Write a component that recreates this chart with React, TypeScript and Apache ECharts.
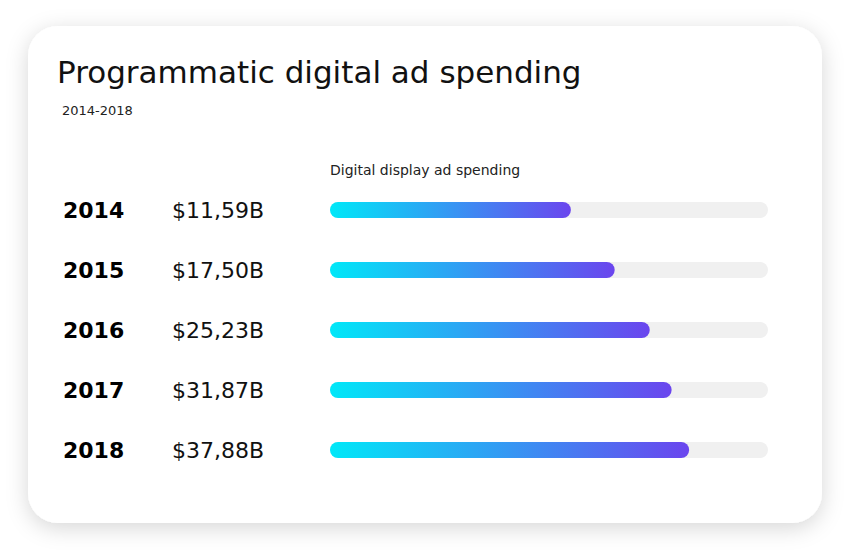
import React, { useEffect, useRef } from "react";
import * as echarts from "echarts";

const years = ["2014", "2015", "2016", "2017", "2018"];
const amounts = ["$11,59B", "$17,50B", "$25,23B", "$31,87B", "$37,88B"];
const barValues = [55, 65, 73, 78, 82];

const FONT = "DejaVu Sans";

export default function App() {
  const ref = useRef<HTMLDivElement>(null);
  useEffect(() => {
    if (!ref.current) return;
    const chart = echarts.init(ref.current, null, { renderer: "svg" });
    chart.setOption({
      animation: false,
      backgroundColor: "#ffffff",
      textStyle: { fontFamily: FONT },
      graphic: [
        {
          type: "rect",
          z: -10,
          shape: { x: 28, y: 26, width: 794, height: 497, r: 30 },
          style: {
            fill: "#ffffff",
            shadowBlur: 22,
            shadowColor: "rgba(0,0,0,0.16)",
            shadowOffsetY: 5,
          },
        },
      ],
      title: [
        {
          text: "Programmatic digital ad spending",
          left: 57,
          top: 56,
          padding: 0,
          textStyle: { fontFamily: FONT, fontSize: 31, fontWeight: "normal", color: "#111" },
        },
        {
          text: "2014-2018",
          left: 62,
          top: 104,
          padding: 0,
          textStyle: { fontFamily: FONT, fontSize: 13, fontWeight: "normal", color: "#222" },
        },
        {
          text: "Digital display ad spending",
          left: 330,
          top: 163,
          padding: 0,
          textStyle: { fontFamily: FONT, fontSize: 14, fontWeight: "normal", color: "#222" },
        },
      ],
      grid: { left: 330, right: 82, top: 180, bottom: 70 },
      xAxis: {
        type: "value",
        min: 0,
        max: 100,
        show: false,
      },
      yAxis: {
        type: "category",
        data: years,
        inverse: true,
        axisLine: { show: false },
        axisTick: { show: false },
        splitLine: { show: false },
        axisLabel: {
          align: "left",
          margin: 267,
          formatter: (val: string, idx: number) => `{y|${val}}{v|${amounts[idx]}}`,
          rich: {
            y: { fontFamily: FONT, fontSize: 22, fontWeight: "bold", color: "#000", width: 109 },
            v: { fontFamily: FONT, fontSize: 22, fontWeight: "normal", color: "#111" },
          },
        },
      },
      series: [
        {
          type: "bar",
          data: barValues,
          barWidth: 16,
          showBackground: true,
          backgroundStyle: { color: "#f0f0f0", borderRadius: 8 },
          itemStyle: {
            borderRadius: 8,
            color: new echarts.graphic.LinearGradient(0, 0, 1, 0, [
              { offset: 0, color: "#00E8F8" },
              { offset: 1, color: "#6B45EE" },
            ]),
          },
        },
      ],
    });
    return () => chart.dispose();
  }, []);
  return (
    <div
      ref={ref}
      style={{ position: "absolute", left: 0, top: 0, width: 850, height: 550 }}
    />
  );
}
